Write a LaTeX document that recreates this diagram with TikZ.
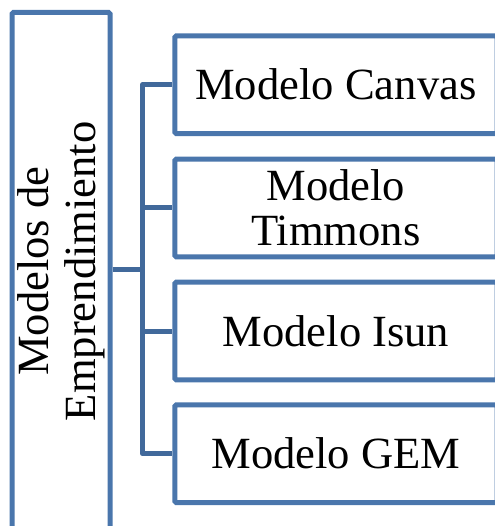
\documentclass[tikz,border=0pt]{standalone}
\usepackage{fontspec}
\setmainfont{Liberation Serif}
\definecolor{boxblue}{HTML}{4A76AC}
\definecolor{connblue}{HTML}{41699B}
\begin{document}
\begin{tikzpicture}[x=1pt,y=-1pt,
  rootbox/.style={draw=boxblue, line width=5pt, fill=white, rounded corners=1.5pt,
    rotate=90, minimum width=517.5pt, minimum height=98pt, inner sep=0pt,
    align=center, font=\fontsize{44.6}{46.6}\selectfont},
  itembox/.style={draw=boxblue, line width=5pt, fill=white, rounded corners=1.5pt,
    minimum width=322.2pt, minimum height=97.7pt, inner sep=0pt,
    align=center, font=\fontsize{44.6}{45}\selectfont},
  conn/.style={draw=connblue, line width=5pt, line join=round}]
\useasboundingbox (0,0) rectangle (494,526);
\node[rootbox] (root) at (61,271.25) {Modelos de\\Emprendimiento};
\node[itembox] (b1) at (335.9,84.7) {Modelo Canvas};
\node[itembox] (b2) at (335.9,208) {Modelo\\Timmons};
\node[itembox] (b3) at (335.9,331) {Modelo Isun};
\node[itembox] (b4) at (335.9,453.7) {Modelo GEM};
\coordinate (hub) at (142.5,269.5);
\draw[conn] (hub -| root.south) -- (hub);
\draw[conn] (b1.west) -- (b1.west -| hub) -- (b4.west -| hub) -- (b4.west);
\draw[conn] (b2.west -| hub) -- (b2.west);
\draw[conn] (b3.west -| hub) -- (b3.west);
\end{tikzpicture}
\end{document}
